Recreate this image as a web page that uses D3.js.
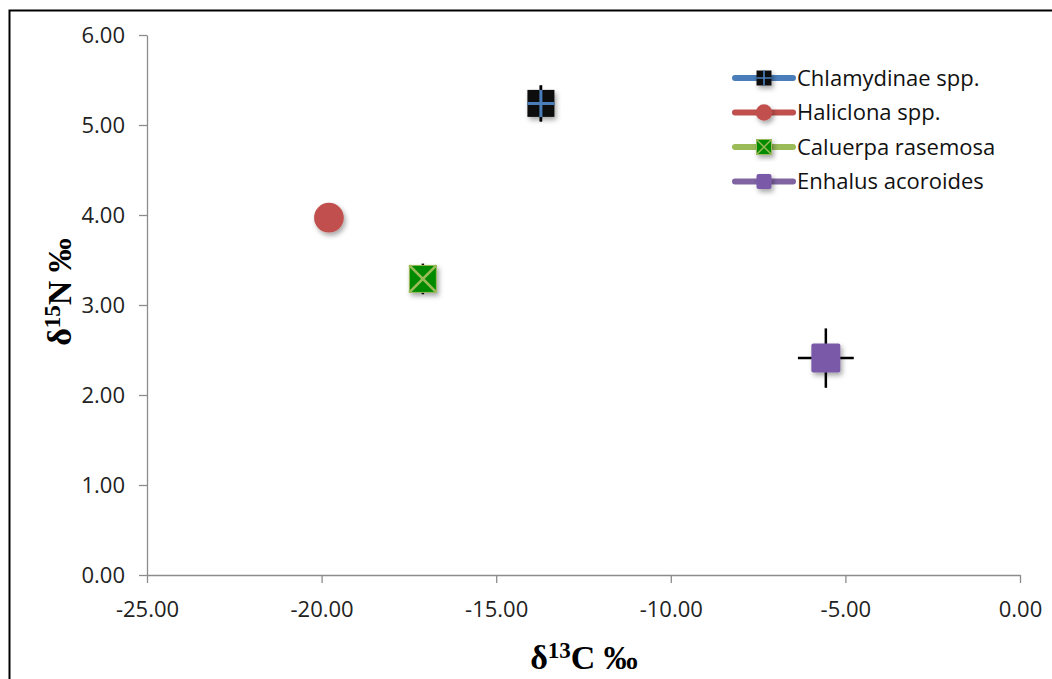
<!DOCTYPE html>
<html>
<head>
<meta charset="utf-8">
<script src="https://cdn.jsdelivr.net/npm/d3@7"></script>
<style>
  body { margin: 0; background: #fff; }
  text { font-family: "Open Sans", "Liberation Sans", sans-serif; }
</style>
</head>
<body>
<svg width="1052" height="679"></svg>
<script>
var width = 1052,
    height = 679,
    margin = {left: 147, right: 32, top: 35, bottom: 104};

// data
var species = ["Chlamydinae spp.", "Haliclona spp.", "Caluerpa rasemosa", "Enhalus acoroides"];
var d13C = [-13.72, -19.79, -17.1, -5.56];
var d15N = [5.24, 3.97, 3.29, 2.41];
var errC = [0.0, 0.0, 0.0, 0.8];
var errN = [0.2, 0.0, 0.17, 0.33];
var xTicks = [-25, -20, -15, -10, -5, 0];
var yTicks = [0, 1, 2, 3, 4, 5, 6];
var colors = ["#4a7ebb", "#c0504d", "#9bbb59", "#8064a2"];

var svg = d3.select("svg");
var fmt = function(d) { return d3.format(".2f")(d).replace("−", "-"); };

var defs = svg.append("defs");
defs.append("filter").attr("id", "shadow")
    .attr("x", "-50%").attr("y", "-50%").attr("width", "200%").attr("height", "200%")
  .append("feDropShadow")
    .attr("dx", 2).attr("dy", 3).attr("stdDeviation", 2.5)
    .attr("flood-color", "#000").attr("flood-opacity", 0.35);

// outer border
svg.append("rect")
    .attr("x", 9.5).attr("y", 10.5)
    .attr("width", 1100).attr("height", 700)
    .attr("fill", "none").attr("stroke", "#000").attr("stroke-width", 2);

var x = d3.scaleLinear().domain([-25, 0]).range([margin.left, width - margin.right]);
var y = d3.scaleLinear().domain([0, 6]).range([height - margin.bottom, margin.top]);

var xAxis = svg.append("g")
    .attr("transform", "translate(0," + y(0) + ")")
    .call(d3.axisBottom(x).tickValues(xTicks).tickFormat(fmt).tickSize(8).tickSizeOuter(0).tickPadding(18));
var yAxis = svg.append("g")
    .attr("transform", "translate(" + x(-25) + ",0)")
    .call(d3.axisLeft(y).tickValues(yTicks).tickFormat(fmt).tickSize(8).tickSizeOuter(0).tickPadding(14));

[xAxis, yAxis].forEach(function(a) {
  a.selectAll("path, line").attr("stroke", "#8c8c8c").attr("stroke-width", 1.3);
  a.selectAll("text").attr("font-size", 22).attr("fill", "#222")
      .style("font-family", "'Open Sans', sans-serif");
});
xAxis.selectAll("text").attr("dy", "0.71em");

// axis titles
var xt = svg.append("text")
    .attr("x", 584).attr("y", 669)
    .attr("text-anchor", "middle")
    .style("font-family", "'Liberation Serif', serif")
    .attr("font-weight", "bold").attr("font-size", 34);
xt.append("tspan").text("δ");
xt.append("tspan").attr("font-size", 23).attr("dy", -11).text("13");
xt.append("tspan").attr("dy", 11).text("C ‰");

var yt = svg.append("text")
    .attr("transform", "translate(71,292)rotate(-90)")
    .attr("text-anchor", "middle")
    .style("font-family", "'Liberation Serif', serif")
    .attr("font-weight", "bold").attr("font-size", 34);
yt.append("tspan").text("δ");
yt.append("tspan").attr("font-size", 23).attr("dy", -11).text("15");
yt.append("tspan").attr("dy", 11).text("N ‰");

// marker drawing
function marker(g, i, s) {
  var h = s / 2;
  if (i === 0) {
    g.append("rect").attr("x", -h).attr("y", -h).attr("width", s).attr("height", s)
        .attr("fill", "#111").attr("filter", "url(#shadow)");
    g.append("path").attr("d", "M" + (-h) + ",0H" + h + "M0," + (-h) + "V" + h)
        .attr("stroke", colors[0]).attr("stroke-width", s / 9);
  } else if (i === 1) {
    g.append("circle").attr("r", h * 1.1)
        .attr("fill", colors[1]).attr("filter", "url(#shadow)");
  } else if (i === 2) {
    g.append("rect").attr("x", -h).attr("y", -h).attr("width", s).attr("height", s)
        .attr("fill", "#008a00").attr("stroke", "#9bbb59").attr("stroke-width", 1)
        .attr("filter", "url(#shadow)");
    g.append("path").attr("d", "M" + (-h) + "," + (-h) + "L" + h + "," + h + "M" + h + "," + (-h) + "L" + (-h) + "," + h)
        .attr("stroke", "#9bbb59").attr("stroke-width", s / 10);
  } else {
    g.append("rect").attr("x", -h).attr("y", -h).attr("width", s).attr("height", s).attr("rx", 2)
        .attr("fill", "#7a5aa8").attr("filter", "url(#shadow)");
  }
}

// error bars
var pts = svg.append("g");
species.forEach(function(name, i) {
  var cx = x(d13C[i]), cy = y(d15N[i]);
  var eb = pts.append("g").attr("stroke", "#000").attr("stroke-width", 2.5);
  if (errN[i] > 0) eb.append("line").attr("x1", cx).attr("x2", cx).attr("y1", y(d15N[i] - errN[i])).attr("y2", y(d15N[i] + errN[i]));
  if (errC[i] > 0) eb.append("line").attr("y1", cy).attr("y2", cy).attr("x1", x(d13C[i] - errC[i])).attr("x2", x(d13C[i] + errC[i]));
});
species.forEach(function(name, i) {
  var g = pts.append("g").attr("transform", "translate(" + x(d13C[i]) + "," + y(d15N[i]) + ")");
  marker(g, i, i === 3 ? 29 : 27);
});
// Chlamydinae error bar peeks through the marker cross
pts.append("line")
    .attr("x1", x(d13C[0])).attr("x2", x(d13C[0]))
    .attr("y1", y(d15N[0] - errN[0])).attr("y2", y(d15N[0] + errN[0]))
    .attr("stroke", "#000").attr("stroke-width", 2.5)
    .attr("stroke-dasharray", "4 " + (y(d15N[0] - errN[0]) - y(d15N[0] + errN[0]) - 8) + " 4");

// legend
var legend = svg.append("g").attr("transform", "translate(735,78)");
species.forEach(function(name, i) {
  var row = legend.append("g").attr("transform", "translate(0," + (i * 34.5) + ")");
  row.append("line").attr("x1", 0).attr("x2", 58)
      .attr("stroke", colors[i]).attr("stroke-width", 6).attr("stroke-linecap", "round");
  var m = row.append("g").attr("transform", "translate(29,0)");
  marker(m, i, 15);
  row.append("text").attr("x", 62).attr("y", 0).attr("dy", "0.35em")
      .attr("font-size", 22).attr("fill", "#111").text(name);
});
</script>
</body>
</html>
